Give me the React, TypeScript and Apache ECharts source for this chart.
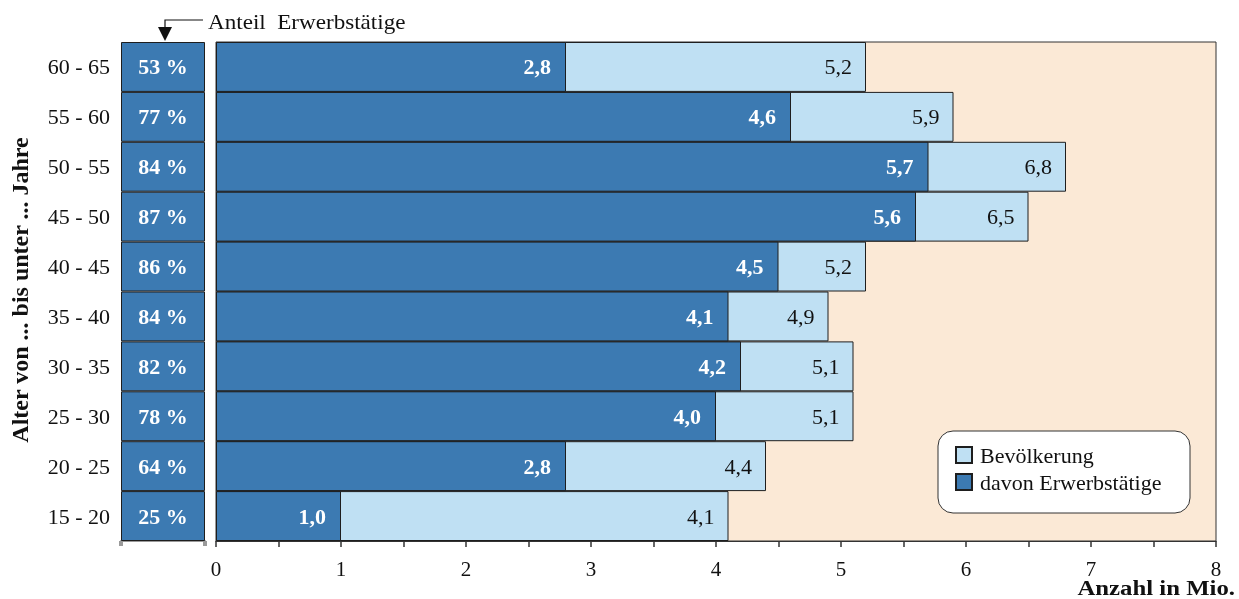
import React, { useEffect, useRef } from "react";
import * as echarts from "echarts";

const categories = ["15 - 20", "20 - 25", "25 - 30", "30 - 35", "35 - 40", "40 - 45", "45 - 50", "50 - 55", "55 - 60", "60 - 65"];
const bevoelkerung = [4.1, 4.4, 5.1, 5.1, 4.9, 5.2, 6.5, 6.8, 5.9, 5.2];
const erwerbstaetige = [1.0, 2.8, 4.0, 4.2, 4.1, 4.5, 5.6, 5.7, 4.6, 2.8];
const anteil = [25, 64, 78, 82, 84, 86, 87, 84, 77, 53];
const xTicks = [0, 1, 2, 3, 4, 5, 6, 7, 8];

const DARK = "#3c7ab2";
const LIGHT = "#bfe0f3";
const PEACH = "#fbe9d6";
const BORDER = "#1e1e1e";
const FONT = "'Liberation Serif', 'Times New Roman', serif";

const fmt = (v: number) => v.toFixed(1).replace(".", ",");

export default function App() {
  const ref = useRef<HTMLDivElement>(null);
  useEffect(() => {
    if (!ref.current) return;
    const chart = echarts.init(ref.current, null, { renderer: "svg" });
    const top = 42;
    const bottom = 58;
    chart.setOption({
      animation: false,
      textStyle: { fontFamily: FONT },
      grid: [
        {
          left: 216, right: 23, top, bottom,
          show: true, backgroundColor: PEACH, borderColor: "#333", borderWidth: 1,
        },
        { left: 121, width: 84, top, bottom, show: false },
      ],
      xAxis: [
        {
          gridIndex: 0, type: "value", min: xTicks[0], max: xTicks[xTicks.length - 1], interval: 0.5,
          axisLine: { show: true, lineStyle: { color: "#333", width: 1 } },
          axisTick: { show: true, length: 6, lineStyle: { color: "#333", width: 1.5 } },
          splitLine: { show: false },
          axisLabel: {
            fontFamily: FONT, fontSize: 21, color: "#111", margin: 17,
            formatter: (v: number) => (xTicks.includes(v) ? String(v) : ""),
          },
        },
        {
          gridIndex: 1, type: "value", min: 0, max: 1, interval: 1,
          axisLine: { show: true, lineStyle: { color: "#9a9a9a", width: 2 } },
          axisTick: { show: true, length: 5, lineStyle: { color: "#9a9a9a", width: 4 } },
          splitLine: { show: false },
          axisLabel: { show: false },
        },
      ],
      yAxis: [
        {
          gridIndex: 0, type: "category", data: categories, show: false,
        },
        {
          gridIndex: 1, type: "category", data: categories,
          axisLine: { show: false }, axisTick: { show: false },
          axisLabel: { fontFamily: FONT, fontSize: 22, color: "#111", margin: 11 },
        },
      ],
      legend: {
        left: 950, top: 439, orient: "vertical", itemWidth: 16, itemHeight: 16, itemGap: 5,
        icon: "rect",
        data: ["Bevölkerung", "davon Erwerbstätige"],
        textStyle: { fontFamily: FONT, fontSize: 22, color: "#111", padding: [0, 0, 0, 3] },
      },
      graphic: [
        {
          type: "rect", z: 3, shape: { x: 938, y: 431, width: 252, height: 82, r: 15 },
          style: { fill: "#fff", stroke: "#333", lineWidth: 1 },
        },
        {
          type: "polyline", z: 5, shape: { points: [[203, 20], [165, 20], [165, 28]] },
          style: { stroke: "#111", lineWidth: 1.2, fill: null },
        },
        {
          type: "polygon", z: 5, shape: { points: [[158, 27], [172, 27], [165, 41]] },
          style: { fill: "#111" },
        },
        {
          type: "text", z: 5, x: 208, y: 22, scaleX: 1.1,
          style: { text: "Anteil  Erwerbstätige", font: `21px ${FONT}`, fill: "#111", textVerticalAlign: "middle" },
        },
        {
          type: "text", z: 5, x: 20, y: 290, rotation: Math.PI / 2,
          style: {
            text: "Alter von ... bis unter ... Jahre", font: `bold 24px ${FONT}`, fill: "#111",
            textAlign: "center", textVerticalAlign: "middle",
          },
        },
        {
          type: "text", z: 5, x: 1235, y: 588, scaleX: 1.18,
          style: {
            text: "Anzahl in Mio.", font: `bold 21px ${FONT}`, fill: "#111",
            textAlign: "right", textVerticalAlign: "middle",
          },
        },
      ],
      series: [
        {
          name: "Bevölkerung", type: "bar", xAxisIndex: 0, yAxisIndex: 0, data: bevoelkerung,
          barWidth: "100%", barGap: "-100%", z: 2,
          itemStyle: { color: LIGHT, borderColor: BORDER, borderWidth: 1 },
          label: {
            show: true, position: "insideRight", distance: 14,
            formatter: (p: any) => fmt(p.value),
            fontFamily: FONT, fontSize: 22, color: "#111",
          },
        },
        {
          name: "davon Erwerbstätige", type: "bar", xAxisIndex: 0, yAxisIndex: 0, data: erwerbstaetige,
          barWidth: "100%", barGap: "-100%", z: 3,
          itemStyle: { color: DARK, borderColor: BORDER, borderWidth: 1 },
          label: {
            show: true, position: "insideRight", distance: 15,
            formatter: (p: any) => fmt(p.value),
            fontFamily: FONT, fontSize: 22, fontWeight: "bold", color: "#fff",
          },
        },
        {
          name: "Anteil", type: "bar", xAxisIndex: 1, yAxisIndex: 1,
          data: anteil.map(() => 1), barWidth: "100%",
          itemStyle: { color: DARK, borderColor: BORDER, borderWidth: 1 },
          label: {
            show: true, position: "inside",
            formatter: (p: any) => `${anteil[p.dataIndex]} %`,
            fontFamily: FONT, fontSize: 22, fontWeight: "bold", color: "#fff",
          },
        },
      ],
    });
    return () => chart.dispose();
  }, []);
  return <div ref={ref} style={{ position: "fixed", left: 0, top: 0, width: 1239, height: 599 }} />;
}
